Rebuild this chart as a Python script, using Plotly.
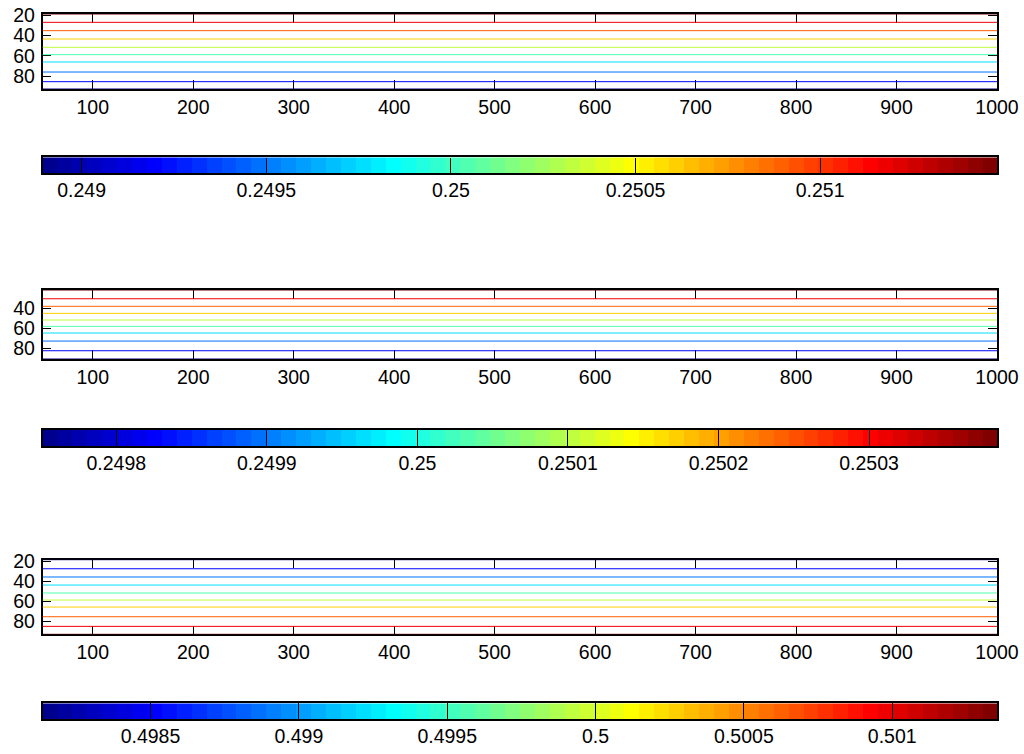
import numpy as np
import plotly.graph_objects as go

# ---------------- data ----------------
x_span = [50, 1000]
x_ticks = [100, 200, 300, 400, 500, 600, 700, 800, 900, 1000]
y_ticks = [20, 40, 60, 80]

# panel 1: contour levels and their y positions
p1_levels = [0.251479, 0.251192, 0.250904, 0.250617, 0.250330,
             0.250043, 0.249756, 0.249468, 0.249181, 0.248894]
p1_y = [18.7, 26.9, 35.1, 43.3, 51.5, 58.7, 65.9, 75.8, 85.3, 92.5]
cb1_ticks = [0.249, 0.2495, 0.25, 0.2505, 0.251]
cb1_labels = ["0.249", "0.2495", "0.25", "0.2505", "0.251"]

# panel 2
p2_levels = [0.250385, 0.250314, 0.250244, 0.250173, 0.250103,
             0.250032, 0.249962, 0.249891, 0.249821, 0.249751]
p2_y = [22.1, 30.8, 38.3, 45.3, 51.9, 58.2, 64.8, 72.8, 82.4, 90.6]
cb2_ticks = [0.2498, 0.2499, 0.25, 0.2501, 0.2502, 0.2503]
cb2_labels = ["0.2498", "0.2499", "0.25", "0.2501", "0.2502", "0.2503"]

# panel 3
p3_levels = [0.498136, 0.498493, 0.498851, 0.499208, 0.499566,
             0.499923, 0.500280, 0.500638, 0.500995, 0.501353]
p3_y = [18.7, 27.7, 35.9, 43.9, 51.8, 58.8, 65.8, 75.4, 85.0, 92.9]
cb3_ticks = [0.4985, 0.499, 0.4995, 0.5, 0.5005, 0.501]
cb3_labels = ["0.4985", "0.499", "0.4995", "0.5", "0.5005", "0.501"]


# ---------------- MATLAB jet colormap ----------------
def jet(m=64):
    n = int(np.ceil(m / 4))
    u = np.concatenate([np.arange(1, n + 1) / n, np.ones(n - 1), np.arange(n, 0, -1) / n])
    g = int(np.ceil(n / 2)) - (1 if m % 4 == 1 else 0) + np.arange(1, len(u) + 1)
    r = g + n
    b = g - n
    J = np.zeros((m, 3))
    for idx, col in ((r, 0), (g, 1), (b, 2)):
        mask = (idx >= 1) & (idx <= m)
        J[idx[mask] - 1, col] = u[mask]
    return J


JET = jet(64)
M = len(JET)


def rgb(c):
    return "rgb(%d,%d,%d)" % tuple(int(round(v * 255)) for v in c)


def level_color(v, cmin, cmax):
    i = int(np.floor((v - cmin) / (cmax - cmin) * M))
    return rgb(JET[min(max(i, 0), M - 1)])


discrete_scale = []
for i, c in enumerate(JET):
    discrete_scale.append([i / M, rgb(c)])
    discrete_scale.append([(i + 1) / M, rgb(c)])

# ---------------- layout geometry ----------------
W, H = 1024, 754
xdom = [42.5 / W, 997 / W]


def ydom(top_px, bot_px):
    return [1 - bot_px / H, 1 - top_px / H]


plot_doms = [ydom(14, 89), ydom(290, 359), ydom(559.7, 634.3)]
cb_doms = [ydom(157.3, 173.3), ydom(430, 446), ydom(703.3, 719)]

FONT = dict(family="Liberation Sans, Arial, Helvetica, sans-serif", size=19.5, color="black")

fig = go.Figure()
panels = [(p1_levels, p1_y, cb1_ticks, cb1_labels),
          (p2_levels, p2_y, cb2_ticks, cb2_labels),
          (p3_levels, p3_y, cb3_ticks, cb3_labels)]

layout = dict(width=W, height=H, margin=dict(l=0, r=0, t=0, b=0, autoexpand=False),
              paper_bgcolor="white", plot_bgcolor="white", showlegend=False,
              font=FONT, template="none")

for k, (levels, ys, cbt, cbl) in enumerate(panels):
    ax_p = 2 * k + 1
    ax_c = 2 * k + 2
    xp = "x" if ax_p == 1 else "x%d" % ax_p
    yp = "y" if ax_p == 1 else "y%d" % ax_p
    cmin, cmax = min(levels), max(levels)
    for lv, yv in zip(levels, ys):
        fig.add_trace(go.Scatter(x=x_span, y=[yv, yv], mode="lines",
                                 line=dict(color=level_color(lv, cmin, cmax), width=1),
                                 cliponaxis=False, hoverinfo="skip",
                                 xaxis=xp, yaxis=yp))
    # colorbar as heatmap strip
    edges = np.linspace(cmin, cmax, M + 1)
    centers = (edges[:-1] + edges[1:]) / 2
    fig.add_trace(go.Heatmap(x=edges, y=[0, 1], z=[centers], zmin=cmin, zmax=cmax,
                             colorscale=discrete_scale, showscale=False, hoverinfo="skip",
                             xaxis="x%d" % ax_c, yaxis="y%d" % ax_c))

    key_xp = "xaxis" if ax_p == 1 else "xaxis%d" % ax_p
    key_yp = "yaxis" if ax_p == 1 else "yaxis%d" % ax_p
    common = dict(showline=True, linecolor="black", linewidth=1.5, mirror="ticks",
                  ticks="inside", ticklen=9, tickcolor="black", tickwidth=1,
                  showgrid=False, zeroline=False, layer="below traces",
                  tickfont=FONT, automargin=False)
    layout[key_xp] = dict(domain=xdom, range=x_span, tickvals=x_ticks,
                          anchor=yp, ticklabelstandoff=0, **common)
    layout[key_yp] = dict(domain=plot_doms[k], range=[max(ys), min(ys)],
                          tickvals=y_ticks, anchor=xp, ticklabelstandoff=2, **common)
    layout["xaxis%d" % ax_c] = dict(domain=xdom, range=[cmin, cmax], tickvals=cbt,
                                    ticktext=cbl, anchor="y%d" % ax_c,
                                    showline=True, linecolor="black", linewidth=1.5,
                                    mirror=True, ticks="inside", ticklen=16,
                                    tickcolor="black", tickwidth=1, showgrid=False,
                                    zeroline=False, tickfont=FONT, ticklabelstandoff=-1,
                                    automargin=False)
    layout["yaxis%d" % ax_c] = dict(domain=cb_doms[k], range=[0, 1], anchor="x%d" % ax_c,
                                    showline=True, linecolor="black", linewidth=1.5,
                                    mirror=True, ticks="", showticklabels=False,
                                    showgrid=False, zeroline=False, automargin=False)

fig.update_layout(**layout)
fig.write_html("out.html")
